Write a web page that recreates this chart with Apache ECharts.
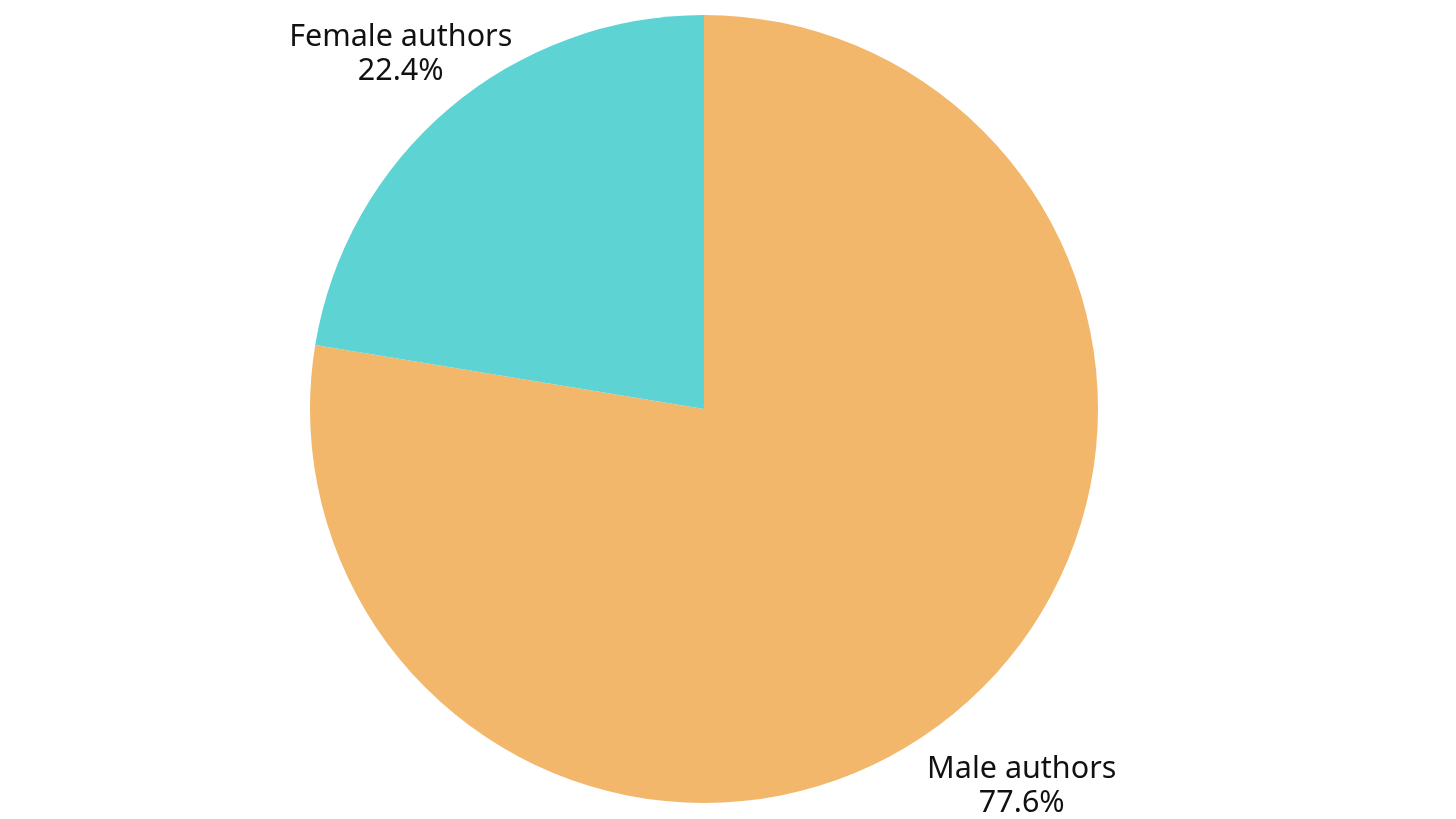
<!DOCTYPE html>
<html>
<head>
<meta charset="utf-8">
<script src="https://cdn.jsdelivr.net/npm/echarts@6/dist/echarts.min.js"></script>
<style>html,body{margin:0;padding:0;background:#fff;}#c{width:1456px;height:819px;}</style>
</head>
<body>
<div id="c"></div>
<script>
const categories = ['Male authors', 'Female authors'];
const values = [77.6, 22.4];
const colors = ['#F2B76B', '#5DD4D3'];
const labelLengths = [101.5, 71.5];
const labelLengths2 = [-102.5, -114.5];

const chart = echarts.init(document.getElementById('c'), null, {renderer: 'canvas'});
const txt = { fontFamily: 'Noto Sans', fontSize: 30.5, lineHeight: 34, color: '#111111', align: 'center' };
chart.setOption({
  backgroundColor: '#ffffff',
  animation: false,
  series: [{
    type: 'pie',
    center: [704, 409],
    radius: [0, 394],
    startAngle: 90,
    clockwise: true,
    avoidLabelOverlap: false,
    label: {
      show: true,
      position: 'outside',
      formatter: p => '{a|' + p.name + '}\n{a|' + p.value.toFixed(1) + '%}',
      fontFamily: 'Noto Sans',
      fontSize: 30.5,
      lineHeight: 34,
      color: '#111111',
      verticalAlign: 'middle',
      alignTo: 'none',
      rich: { a: txt }
    },
    labelLine: { show: false },
    itemStyle: { borderWidth: 0 },
    data: categories.map((n, i) => ({
      name: n,
      value: values[i],
      itemStyle: { color: colors[i] },
      labelLine: { show: false, length: labelLengths[i], length2: labelLengths2[i] }
    }))
  }]
});
</script>
</body>
</html>
